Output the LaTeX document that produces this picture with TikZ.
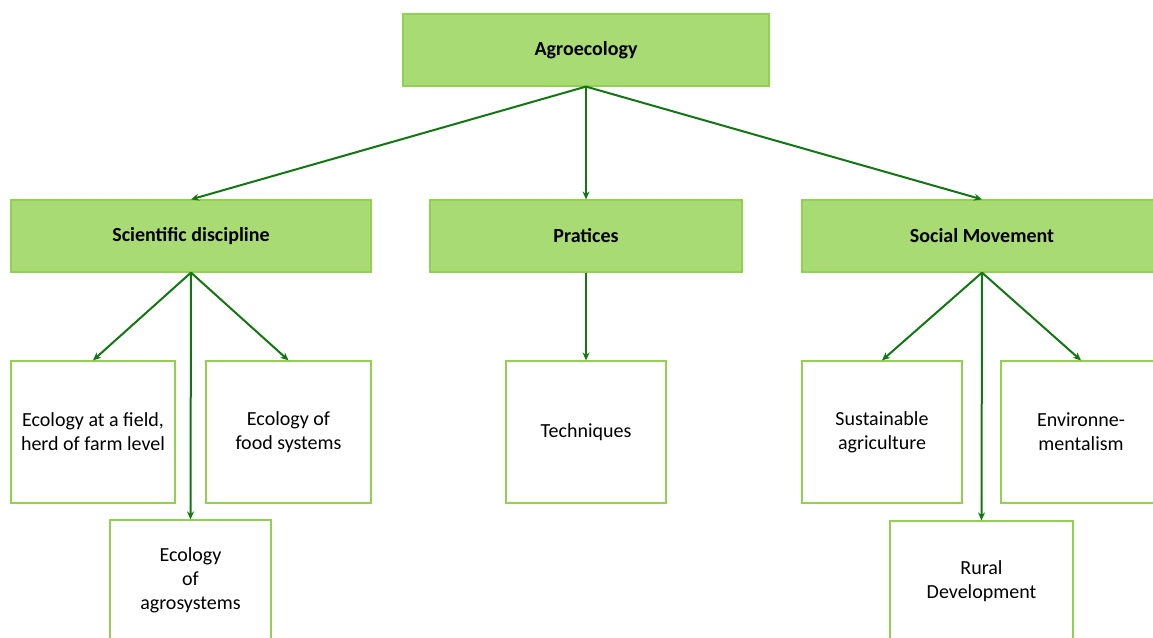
\documentclass[tikz,border=0pt]{standalone}
\usepackage{fontspec}
\setmainfont{Carlito}
\usetikzlibrary{arrows.meta}
\definecolor{leaf}{RGB}{169,219,116}
\definecolor{leafline}{RGB}{146,208,80}
\definecolor{stem}{RGB}{18,118,18}

\begin{document}
\begin{tikzpicture}[x=1pt, y=-1pt,
    head/.style={draw=leafline, fill=leaf, line width=1.2pt, minimum height=72pt,
      inner sep=0pt, font=\fontsize{20}{24}\selectfont\bfseries},
    leafbox/.style={draw=leafline, fill=white, line width=1.2pt, minimum height=142pt,
      inner sep=0pt, align=center, font=\fontsize{20}{24}\selectfont},
    link/.style={draw=stem, line width=2pt, -{Stealth[length=8pt,width=7pt]}}]
      \useasboundingbox (0,0) rectangle (1153,637);
      \clip (0,0) rectangle (1153,637);

      % Top level
      \node[head, minimum width=366pt] (agro) at (586,50) {Agroecology};

      % Three views
      \node[head, minimum width=360pt] (science) at (191,236) {Scientific discipline};
      \node[head, minimum width=312pt] (practice) at (586,236) {Pratices};
      \node[head, minimum width=360pt] (social) at (982,236) {Social Movement};

      % Scientific discipline branch
      \node[leafbox, minimum width=164pt] (field) at (93,432) {Ecology at a field,\\herd of farm level};
      \node[leafbox, minimum width=165pt] (food) at (288.5,432) {Ecology of\\food systems};
      \node[leafbox, minimum width=161pt, minimum height=120pt] (agrosys) at (190.5,580) {Ecology\\of\\agrosystems};

      % Practices branch
      \node[leafbox, minimum width=160pt] (tech) at (586,432) {Techniques};

      % Social movement branch
      \node[leafbox, minimum width=160pt] (sustain) at (882,432) {Sustainable\\agriculture};
      \node[leafbox, minimum width=160pt] (environ) at (1081,432) {Environne-\\mentalism};
      \node[leafbox, minimum width=183pt, minimum height=120pt] (rural) at (981.5,581) {Rural\\Development};

      % Links
      \draw[link] (agro.south) -- (science.north);
      \draw[link] (agro.south) -- (practice.north);
      \draw[link] (agro.south) -- (social.north);

      \draw[link] (science.south) -- (field.north);
      \draw[link] (science.south) -- (food.north);
      \draw[link] (science.south) -- (agrosys.north);

      \draw[link] (practice.south) -- (tech.north);

      \draw[link] (social.south) -- (sustain.north);
      \draw[link] (social.south) -- (environ.north);
      \draw[link] (social.south) -- (rural.north);
\end{tikzpicture}
\end{document}
